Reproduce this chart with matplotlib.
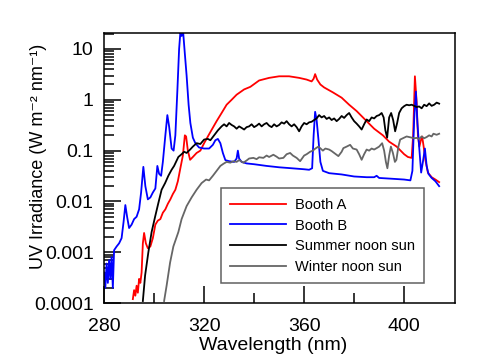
import matplotlib
matplotlib.use("Agg")
import matplotlib.pyplot as plt
from matplotlib import ticker

plt.rcParams['font.family'] = ['Liberation Sans', 'DejaVu Sans']

# Booth A (red lamp spectrum)
booth_a_nm = [291.5, 292, 292.5, 293, 293.5, 294, 294.5, 295, 295.5, 296, 296.7, 297.5,
              298.5, 299.5, 300.5, 301.5, 302.5, 303.5, 304.5, 305.5, 306.5, 307.5, 308.5,
              309.5, 310.5, 311.5, 312.3, 312.8, 313.5, 314.4, 315.5, 317, 318.5, 320, 322,
              325, 327, 329, 331, 333, 336, 338.5, 342, 346, 350, 354, 358, 361, 363, 363.8,
              364.4, 365.2, 366.5, 368, 371.5, 375, 378, 381, 385, 388, 391.5, 394, 397, 400,
              401.5, 403, 403.6, 404.3, 405, 405.5, 406.1, 406.7, 407.2, 407.8, 408.5, 409.5,
              411, 412.5, 414]
booth_a = [0.00012, 0.00018, 0.00014, 0.00022, 0.00016, 0.0003, 0.00025, 0.0004, 0.0015,
           0.0024, 0.0015, 0.0012, 0.0013, 0.0019, 0.0035, 0.0042, 0.0045, 0.006, 0.007,
           0.009, 0.011, 0.014, 0.017, 0.025, 0.045, 0.08, 0.2, 0.19, 0.1, 0.066, 0.075,
           0.09, 0.1, 0.14, 0.21, 0.38, 0.55, 0.8, 1.0, 1.26, 1.6, 1.8, 2.4, 2.7, 2.9, 2.9,
           2.7, 2.5, 2.3, 2.6, 3.2, 2.5, 2.0, 1.75, 1.4, 1.1, 0.8, 0.6, 0.38, 0.27, 0.2,
           0.15, 0.12, 0.085, 0.075, 0.072, 0.2, 2.9, 0.9, 0.2, 0.12, 0.16, 0.19, 0.12,
           0.065, 0.037, 0.03, 0.027, 0.024]

# Booth B (blue lamp spectrum)
booth_b_nm = [280, 280.5, 281, 281.5, 282, 282.5, 283, 283.5, 284, 285, 286, 287, 287.8,
              288.5, 289.2, 290, 291, 292, 293, 294, 294.8, 295.7, 296.5, 297.5, 298.5,
              299.5, 300.5, 301.3, 302, 302.8, 303.5, 304.5, 305.3, 306, 307, 307.8, 308.5,
              309.3, 310, 310.5, 311, 311.6, 312.3, 313, 313.8, 314.5, 315.5, 316.5, 318,
              320, 322, 323.5, 324.5, 325.5, 326.5, 327.5, 328.5, 330, 332, 333, 333.5, 334,
              335, 337, 340, 345, 350, 355, 360, 362, 363.2, 363.8, 364.4, 365, 365.7, 366.5,
              367.5, 370, 375, 380, 385, 388, 389, 390, 395, 400, 402.5, 403.3, 404, 404.7,
              405.3, 406, 406.8, 407.5, 408.3, 409, 409.7, 411, 412.5, 414]
booth_b = [0.0004, 0.0002, 0.0006, 0.00025, 0.0007, 0.0003, 0.0008, 0.0002, 0.0011, 0.0013,
           0.0015, 0.0019, 0.004, 0.0085, 0.005, 0.003, 0.0035, 0.0045, 0.005, 0.007, 0.015,
           0.048, 0.02, 0.011, 0.012, 0.015, 0.018, 0.05, 0.035, 0.032, 0.06, 0.2, 0.5, 0.3,
           0.11, 0.1, 0.2, 1.5, 10, 21, 18, 22, 8, 3, 0.8, 0.35, 0.18, 0.14, 0.115, 0.11,
           0.11, 0.13, 0.16, 0.17, 0.14, 0.09, 0.065, 0.062, 0.06, 0.07, 0.1, 0.07, 0.06,
           0.056, 0.054, 0.05, 0.047, 0.045, 0.043, 0.042, 0.045, 0.2, 0.58, 0.4, 0.17, 0.06,
           0.04, 0.036, 0.034, 0.031, 0.03, 0.03, 0.032, 0.029, 0.028, 0.027, 0.026, 0.04,
           0.4, 1.45, 0.35, 0.12, 0.037, 0.06, 0.11, 0.05, 0.035, 0.029, 0.025, 0.02]

# Summer noon sun
summer_nm = [295.5, 296.4, 297.7, 299, 300.4, 301.7, 303, 304.4, 305.7, 307, 308, 309.7, 311,
             312, 313, 314.4, 315.5, 317, 318.5, 320, 321.5, 322.5, 324, 325.5, 327, 328,
             329, 330, 331, 332, 333, 334, 335, 336, 337, 338, 339, 340, 341, 342, 343, 344,
             345, 346, 347, 348, 349, 350, 351, 352, 353, 354, 355, 356, 357, 358, 359, 360,
             361, 362, 363, 364, 365, 366, 367, 368, 369, 370, 371, 372, 373, 374, 375, 376,
             377, 378, 379, 380, 381, 382, 383, 384, 385, 386, 387, 388, 389, 390, 391,
             391.8, 392.5, 393.2, 394, 394.8, 395.6, 396.4, 397.2, 398, 399, 400, 401, 402,
             403, 404, 405, 406, 407, 408, 409, 410, 411, 412, 413, 414]
summer = [0.00011, 0.00035, 0.001, 0.0025, 0.005, 0.0093, 0.017, 0.023, 0.032, 0.042, 0.05,
          0.075, 0.085, 0.095, 0.09, 0.105, 0.12, 0.14, 0.135, 0.165, 0.17, 0.16, 0.2, 0.25,
          0.3, 0.33, 0.3, 0.35, 0.32, 0.3, 0.27, 0.3, 0.28, 0.26, 0.29, 0.3, 0.33, 0.29,
          0.31, 0.34, 0.3, 0.33, 0.35, 0.31, 0.29, 0.33, 0.3, 0.32, 0.36, 0.34, 0.38, 0.33,
          0.3, 0.33, 0.29, 0.24, 0.3, 0.35, 0.33, 0.36, 0.37, 0.4, 0.43, 0.5, 0.45, 0.48,
          0.42, 0.45, 0.4, 0.43, 0.38, 0.42, 0.48, 0.44, 0.5, 0.55, 0.45, 0.38, 0.34, 0.3,
          0.26, 0.33, 0.41, 0.38, 0.45, 0.43, 0.48, 0.5, 0.55, 0.45, 0.25, 0.18, 0.45, 0.55,
          0.4, 0.24, 0.35, 0.55, 0.68, 0.75, 0.8, 0.78, 0.8, 0.76, 0.72, 0.74, 0.68, 0.8,
          0.75, 0.85, 0.76, 0.8, 0.88, 0.84]

# Winter noon sun
winter_nm = [304, 305, 306.4, 307.7, 309.7, 311, 313, 315, 317, 319, 320.8, 322, 323.5, 325,
             326.5, 327.7, 329, 330.5, 331.7, 333, 334, 335.7, 337, 338, 339.7, 341, 342,
             343.7, 345, 346, 347.7, 349, 350, 351.7, 353, 354.4, 355.5, 357, 358.4, 360,
             361, 362.4, 363.5, 364.5, 365.7, 366.4, 367.5, 368.5, 370, 371, 372, 373.7,
             375, 375.7, 377, 378.4, 379.5, 381, 382, 383, 384, 385, 386, 387, 388, 389,
             390, 391.2, 392, 392.7, 393.3, 394, 394.7, 395.5, 396.3, 396.9, 397.7, 398.4,
             400, 401, 402, 403, 404, 405, 406, 407, 408, 409, 410, 411, 411.7, 413, 414]
winter = [0.00011, 0.00022, 0.00063, 0.0013, 0.0025, 0.0045, 0.0081, 0.012, 0.017, 0.023,
          0.027, 0.026, 0.032, 0.04, 0.05, 0.055, 0.06, 0.058, 0.062, 0.06, 0.065, 0.058,
          0.064, 0.07, 0.072, 0.068, 0.074, 0.072, 0.08, 0.075, 0.083, 0.076, 0.07, 0.072,
          0.085, 0.09, 0.08, 0.072, 0.062, 0.08, 0.085, 0.095, 0.1, 0.11, 0.12, 0.112, 0.1,
          0.11, 0.105, 0.098, 0.09, 0.078, 0.095, 0.112, 0.12, 0.13, 0.11, 0.105, 0.085,
          0.066, 0.085, 0.105, 0.1, 0.11, 0.105, 0.112, 0.12, 0.14, 0.1, 0.06, 0.045, 0.08,
          0.12, 0.09, 0.06, 0.066, 0.12, 0.165, 0.18, 0.19, 0.185, 0.18, 0.175, 0.178, 0.17,
          0.19, 0.175, 0.185, 0.2, 0.19, 0.215, 0.205, 0.215]

x_ticks = [280, 320, 360, 400]
y_ticks = [0.0001, 0.001, 0.01, 0.1, 1, 10]

fig = plt.figure(figsize=(4.91, 3.6), dpi=100)
ax = fig.add_axes([0.212, 0.158, 0.715, 0.75])

ax.plot(booth_a_nm, booth_a, color='#ff0000', lw=1.3, label='Booth A')
ax.plot(booth_b_nm, booth_b, color='#0000ff', lw=1.3, label='Booth B')
ax.plot(summer_nm, summer, color='black', lw=1.3, label='Summer noon sun')
ax.plot(winter_nm, winter, color='#666666', lw=1.3, label='Winter noon sun')

ax.set_yscale('log')
ax.set_xlim(280, 420.4)
ax.set_ylim(0.0001, 20.5)

ax.set_xticks(x_ticks)
ax.set_xticks([300, 340, 380], minor=True)
ax.set_yticks(y_ticks)
ax.yaxis.set_major_formatter(ticker.FuncFormatter(lambda v, p: f'{v:g}'))
ax.yaxis.set_minor_locator(ticker.LogLocator(base=10, subs=range(2, 10), numticks=20))
ax.yaxis.set_minor_formatter(ticker.NullFormatter())

ax.tick_params(which='both', direction='in', width=1.1, labelsize=14, color='black')
ax.tick_params(which='major', length=12.5)
ax.tick_params(which='minor', length=7.5)
ax.tick_params(axis='x', pad=10.5)
ax.tick_params(axis='y', pad=7.5)
for s in ax.spines.values():
    s.set_linewidth(1.1)

ax.set_xlabel('Wavelength (nm)', fontsize=14)
ax.set_ylabel('UV Irradiance (W m⁻² nm⁻¹)', fontsize=13)
ax.xaxis.set_label_coords(0.481, -0.125)
ax.yaxis.set_label_coords(-0.163, 0.543)

leg = ax.legend(loc='lower left', bbox_to_anchor=(0.333, 0.074), borderaxespad=0,
                fontsize=10.5, frameon=True, fancybox=False, framealpha=1,
                edgecolor='#606060', handlelength=3.8, handletextpad=0.6,
                labelspacing=0.45, borderpad=0.65)
leg.get_frame().set_linewidth(1.1)

fig.savefig('out.png', dpi=100)
